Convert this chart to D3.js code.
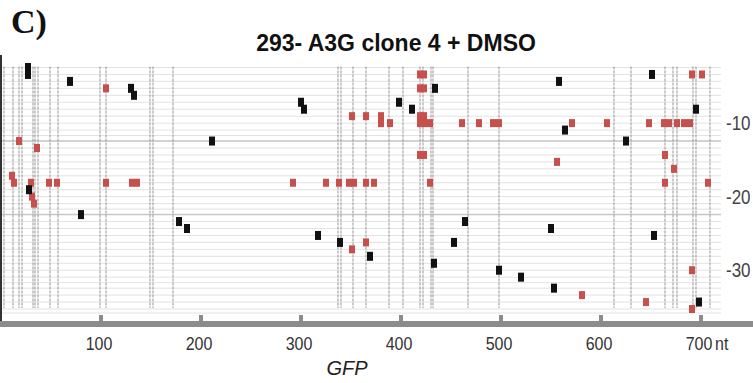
<!DOCTYPE html>
<html>
<head>
<meta charset="utf-8">
<script src="https://cdn.jsdelivr.net/npm/d3@7/dist/d3.min.js"></script>
<style>
  body { margin: 0; background: #fff; }
  .sans { font-family: "Liberation Sans", Arial, sans-serif; }
  .serif { font-family: "Liberation Serif", "Times New Roman", serif; }
</style>
</head>
<body>
<svg width="753" height="383"></svg>
<script>
var seqLength = 720;
var xTicks = [100, 200, 300, 400, 500, 600, 700];
var rowTicks = [10, 20, 30];
var firstRow = 2, lastRow = 35;
var darkRows = [12, 22];

// hotspot columns (nt)
var siteLines = [3, 12, 18, 21, 32, 34, 37, 49, 57, 99, 105, 149, 152, 172,
    337, 340, 352, 365, 388, 402, 419, 422, 430, 432, 467, 498,
    613, 630, 664, 672, 676, 692, 695, 709];

// [position nt, sequence row]
var blackMarks = [[27, 2], [27, 3], [651, 3], [69, 4], [558, 4], [130, 5], [434, 5],
    [133, 6], [300, 7], [398, 7], [303, 8], [411, 8], [695, 8], [564, 11],
    [211, 12], [625, 12], [28, 19], [80, 22], [178, 23], [464, 23], [186, 24],
    [550, 24], [317, 25], [653, 25], [339, 26], [453, 26], [369, 28], [433, 29],
    [498, 30], [520, 31], [553, 32], [698, 34]];

var redMarks = [[419, 3], [423, 3], [691, 3], [701, 3],
    [105, 5], [419, 5], [423, 5],
    [351, 9], [365, 9], [380, 9], [419, 9], [423, 9],
    [380, 10], [389, 10], [419, 10], [424, 10], [429, 10], [461, 10], [478, 10],
    [492, 10], [498, 10], [571, 10], [606, 10], [648, 10], [663, 10], [668, 10],
    [676, 10], [683, 10], [689, 10],
    [18, 12], [36, 13], [419, 14], [423, 14], [664, 14], [556, 15], [673, 16],
    [11, 17],
    [13, 18], [30, 18], [48, 18], [56, 18], [105, 18], [131, 18], [136, 18],
    [292, 18], [325, 18], [338, 18], [348, 18], [353, 18], [365, 18], [373, 18],
    [429, 18], [664, 18], [707, 18],
    [31, 20], [33, 21], [365, 26], [351, 27], [691, 30], [581, 33], [645, 34],
    [691, 35]];

var svg = d3.select('svg');

var x = d3.scaleLinear()
    .domain([0, seqLength])
    .range([1, 721]);

// every 10 sequences there is a small gap
function rowIndex(r) {
    return (r - firstRow) + 0.58 * Math.floor((r - firstRow) / 10);
}
var y = d3.scaleLinear()
    .domain([rowIndex(firstRow), rowIndex(lastRow)])
    .range([67.5, 309]);
var rowY = r => y(rowIndex(r));

// horizontal sequence lines
var gridRows = d3.range(firstRow, lastRow + 1).map(rowY);
[11, 21, 31].forEach(r => gridRows.push((rowY(r) + rowY(r + 1)) / 2));
gridRows.push(rowY(lastRow) + 4);

svg.append('g')
    .selectAll('line')
    .data(gridRows)
    .enter().append('line')
    .attr('x1', 2).attr('x2', x(seqLength))
    .attr('y1', d => d).attr('y2', d => d)
    .attr('stroke', '#e2e2e2')
    .attr('stroke-width', 1);

svg.append('g')
    .selectAll('line')
    .data(darkRows)
    .enter().append('line')
    .attr('x1', 2).attr('x2', x(seqLength))
    .attr('y1', d => rowY(d)).attr('y2', d => rowY(d))
    .attr('stroke', '#c8c8c8')
    .attr('stroke-width', 1.5);

// vertical site lines
svg.append('g')
    .selectAll('line')
    .data(siteLines)
    .enter().append('line')
    .attr('x1', d => x(d)).attr('x2', d => x(d))
    .attr('y1', rowY(firstRow) - 1).attr('y2', rowY(lastRow) - 1)
    .attr('stroke', '#a0a0a0')
    .attr('stroke-width', 1.1)
    .attr('stroke-dasharray', '3,1');

// marks
svg.append('g')
    .selectAll('rect')
    .data(redMarks)
    .enter().append('rect')
    .attr('x', d => x(d[0]) - 3)
    .attr('y', d => rowY(d[1]) - 4)
    .attr('width', 6)
    .attr('height', 8)
    .attr('fill', '#c8504c');

svg.append('g')
    .selectAll('rect')
    .data(blackMarks)
    .enter().append('rect')
    .attr('x', d => x(d[0]) - 3)
    .attr('y', d => rowY(d[1]) - 4.5)
    .attr('width', 6)
    .attr('height', 9)
    .attr('fill', '#111');

// left edge
svg.append('line')
    .attr('x1', 1).attr('x2', 1)
    .attr('y1', 55).attr('y2', 324)
    .attr('stroke', '#333')
    .attr('stroke-width', 2);

// bottom axis bar + ticks
svg.append('rect')
    .attr('x', 0).attr('y', 321)
    .attr('width', 753).attr('height', 6)
    .attr('fill', '#8c8c8c');

svg.append('g')
    .selectAll('rect')
    .data(xTicks)
    .enter().append('rect')
    .attr('x', d => x(d) - 2)
    .attr('y', 315)
    .attr('width', 4).attr('height', 7)
    .attr('fill', '#8c8c8c');

svg.append('g')
    .selectAll('text')
    .data(xTicks)
    .enter().append('text')
    .attr('class', 'sans')
    .attr('transform', d => 'translate(' + (x(d) - 2) + ',350) scale(1,1.15)')
    .attr('text-anchor', 'middle')
    .attr('font-size', 16)
    .attr('fill', '#333')
    .text(d => d);

svg.append('text')
    .attr('class', 'sans')
    .attr('transform', 'translate(' + (x(700) + 14) + ',350) scale(1,1.15)')
    .attr('font-size', 16)
    .attr('fill', '#333')
    .text('nt');

svg.append('text')
    .attr('class', 'sans')
    .attr('x', 347)
    .attr('y', 375)
    .attr('text-anchor', 'middle')
    .attr('font-size', 20)
    .attr('font-style', 'italic')
    .attr('fill', '#222')
    .text('GFP');

// right row labels
svg.append('g')
    .selectAll('text')
    .data(rowTicks)
    .enter().append('text')
    .attr('class', 'sans')
    .attr('transform', d => 'translate(726,' + (rowY(d) + 7) + ') scale(1,1.15)')
    .attr('font-size', 17)
    .attr('fill', '#444')
    .text(d => '-' + d);

// titles
svg.append('text')
    .attr('class', 'sans')
    .attr('x', 396)
    .attr('y', 51)
    .attr('text-anchor', 'middle')
    .attr('font-size', 23)
    .attr('font-weight', 'bold')
    .attr('fill', '#111')
    .text('293- A3G clone 4 + DMSO');

svg.append('text')
    .attr('class', 'serif')
    .attr('x', 11)
    .attr('y', 33)
    .attr('font-size', 34)
    .attr('font-weight', 'bold')
    .attr('fill', '#111')
    .text('C)');
</script>
</body>
</html>
